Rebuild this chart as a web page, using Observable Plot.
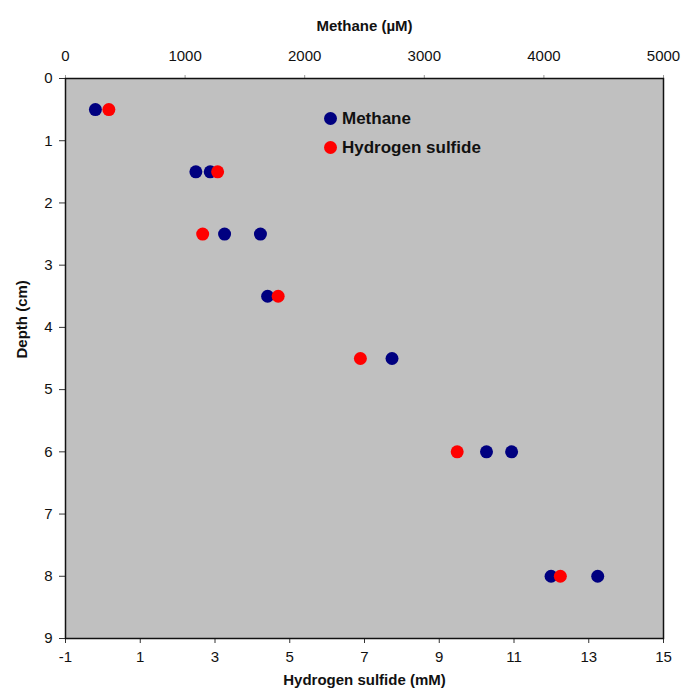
<!DOCTYPE html>
<html>
<head>
<meta charset="utf-8">
<script src="https://cdn.jsdelivr.net/npm/d3@7"></script>
<script src="https://cdn.jsdelivr.net/npm/@observablehq/plot@0.6"></script>
<style>
  html, body { margin: 0; padding: 0; background: #fff; overflow: hidden; }
  #wrap { position: relative; width: 688px; height: 695px; }
  #legend {
    position: absolute; left: 324px; top: 104px;
    font: bold 17px "Liberation Sans", Arial, sans-serif; color: #111;
  }
  #legend .row { display: flex; align-items: center; height: 29px; }
  #legend .sw { width: 13px; height: 13px; border-radius: 50%; margin-right: 5px; }
</style>
</head>
<body>
<div id="wrap">
  <div id="chart"></div>
  <div id="legend"></div>
</div>
<script>
// Methane (µM) vs depth (cm) — blue
const methaneDepth = [0.5, 1.5, 1.5, 2.5, 2.5, 3.5, 4.5, 6, 6, 8, 8];
const methane      = [250, 1090, 1210, 1330, 1630, 1690, 2730, 3520, 3730, 4060, 4450];
// Hydrogen sulfide (mM) vs depth (cm) — red
const h2sDepth = [0.5, 1.5, 2.5, 3.5, 4.5, 6, 8];
const h2s      = [0.16, 3.07, 2.67, 4.69, 6.89, 9.48, 12.24];

const depthTicks   = [0, 1, 2, 3, 4, 5, 6, 7, 8, 9];
const h2sTicks     = [-1, 1, 3, 5, 7, 9, 11, 13, 15];
const methaneTicks = [0, 1000, 2000, 3000, 4000, 5000];

const h2sDomain = [-1, 15];
const methaneDomain = [0, 5000];
// map methane (top axis) into the shared x scale (hydrogen sulfide units)
const toX = m => h2sDomain[0] + (m - methaneDomain[0]) / (methaneDomain[1] - methaneDomain[0]) * (h2sDomain[1] - h2sDomain[0]);
const fromX = x => methaneDomain[0] + (x - h2sDomain[0]) / (h2sDomain[1] - h2sDomain[0]) * (methaneDomain[1] - methaneDomain[0]);

const series = [
  {name: "Methane", color: "#000080"},
  {name: "Hydrogen sulfide", color: "#ff0000"}
];

const methaneData = methane.map((v, i) => ({v, depth: methaneDepth[i]}));
const h2sData = h2s.map((v, i) => ({v, depth: h2sDepth[i]}));

const font = '"Liberation Sans", Arial, sans-serif';

const chart = Plot.plot({
  width: 688,
  height: 695,
  marginTop: 78,
  marginBottom: 57,
  marginLeft: 65,
  marginRight: 25,
  style: {fontFamily: font, fontSize: "15px", color: "#111", background: "#fff", overflow: "visible"},
  x: {domain: h2sDomain},
  y: {domain: [0, 9], reverse: true},
  marks: [
    Plot.frame({fill: "#c0c0c0"}),
    Plot.axisY({anchor: "left", ticks: depthTicks, tickFormat: d => String(d), tickSize: 6, tickPadding: 7, label: null, stroke: "#333", fill: "#111"}),
    Plot.axisX({anchor: "bottom", ticks: h2sTicks, tickFormat: d => String(d), tickSize: 5, tickPadding: 8, label: null, stroke: "#333", fill: "#111"}),
    Plot.axisX({anchor: "top", ticks: methaneTicks.map(toX), tickFormat: d => String(Math.round(fromX(d))), tickSize: 4, tickPadding: 14, label: null, stroke: "#999", fill: "#111"}),
    Plot.text(["Methane (µM)"], {frameAnchor: "top", dy: -58, text: d => d, fontWeight: "bold", fontSize: 15, fill: "#111"}),
    Plot.text(["Hydrogen sulfide (mM)"], {frameAnchor: "bottom", dy: 46, text: d => d, fontWeight: "bold", fontSize: 15, fill: "#111"}),
    Plot.text(["Depth (cm)"], {frameAnchor: "left", dx: -43, rotate: -90, text: d => d, fontWeight: "bold", fontSize: 15, fill: "#111"}),
    Plot.dot(methaneData, {x: d => toX(d.v), y: "depth", r: 6.5, fill: series[0].color}),
    Plot.dot(h2sData, {x: "v", y: "depth", r: 6.5, fill: series[1].color}),
    Plot.frame({stroke: "#111", strokeWidth: 1.5})
  ]
});
document.getElementById("chart").appendChild(chart);

const legend = document.getElementById("legend");
for (const s of series) {
  const row = document.createElement("div");
  row.className = "row";
  const sw = document.createElement("span");
  sw.className = "sw";
  sw.style.background = s.color;
  const label = document.createElement("span");
  label.textContent = s.name;
  row.appendChild(sw);
  row.appendChild(label);
  legend.appendChild(row);
}
</script>
</body>
</html>
